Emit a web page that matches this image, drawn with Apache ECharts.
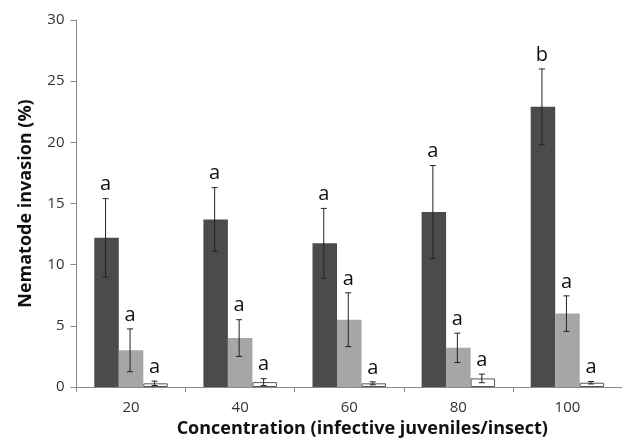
<!DOCTYPE html>
<html>
<head>
<meta charset="utf-8">
<script src="https://cdn.jsdelivr.net/npm/echarts@6/dist/echarts.min.js"></script>
<style>
  html, body { margin: 0; padding: 0; background: #fff; }
  #chart { width: 622px; height: 443px; }
</style>
</head>
<body>
<div id="chart"></div>
<script>
// Nematode invasion (%) by inoculum concentration, three groups per concentration
const categories = ['20', '40', '60', '80', '100'];

const darkValues  = [12.2, 13.7, 11.75, 14.3, 22.9];
const darkErrors  = [3.2, 2.6, 2.85, 3.8, 3.1];
const darkLetters = ['a', 'a', 'a', 'a', 'b'];

const grayValues  = [3.0, 4.0, 5.5, 3.2, 6.0];
const grayErrors  = [1.75, 1.5, 2.2, 1.2, 1.45];
const grayLetters = ['a', 'a', 'a', 'a', 'a'];

const whiteValues  = [0.3, 0.4, 0.3, 0.7, 0.35];
const whiteErrors  = [0.18, 0.28, 0.12, 0.35, 0.1];
const whiteLetters = ['a', 'a', 'a', 'a', 'a'];

const yTicks = { min: 0, max: 30, interval: 5 };

const BAR_W = 24.5;
const FONT = '"Open Sans", "Noto Sans", sans-serif';

const groups = [
  { values: darkValues,  errors: darkErrors,  letters: darkLetters,  slot: -1,
    style: { color: '#4b4b4b' } },
  { values: grayValues,  errors: grayErrors,  letters: grayLetters,  slot: 0,
    style: { color: '#a6a6a6' } },
  { values: whiteValues, errors: whiteErrors, letters: whiteLetters, slot: 1,
    style: { color: '#ffffff', borderColor: '#555555', borderWidth: 1 } }
];

// error bar with caps plus the significance letter above it
function errorBarSeries(g) {
  return {
    type: 'custom',
    z: 5,
    data: g.values.map((v, i) => [i, v, g.errors[i], g.letters[i]]),
    renderItem: function (params, api) {
      const i = api.value(0);
      const v = api.value(1);
      const e = api.value(2);
      const base = api.coord([i, v]);
      const x = base[0] + g.slot * BAR_W - 1;
      const top = api.coord([i, v + e])[1];
      const bot = api.coord([i, Math.max(v - e, 0)])[1];
      const cap = 3;
      const line = { stroke: '#222', lineWidth: 1 };
      return {
        type: 'group',
        children: [
          { type: 'line', shape: { x1: x, y1: top, x2: x, y2: bot }, style: line },
          { type: 'line', shape: { x1: x - cap, y1: top, x2: x + cap, y2: top }, style: line },
          { type: 'line', shape: { x1: x - cap, y1: bot, x2: x + cap, y2: bot }, style: line },
          { type: 'text', x: x, y: top - 4,
            style: { text: g.letters[i], fill: '#111', font: '20px ' + FONT,
                     textAlign: 'center', textVerticalAlign: 'bottom' } }
        ]
      };
    }
  };
}

const chart = echarts.init(document.getElementById('chart'), null, { renderer: 'canvas' });

chart.setOption({
  animation: false,
  backgroundColor: '#ffffff',
  grid: { left: 76.5, right: 0, top: 20, bottom: 56, containLabel: false },
  xAxis: {
    type: 'category',
    data: categories,
    name: 'Concentration (infective juveniles/insect)',
    nameLocation: 'middle',
    nameGap: 32,
    nameTextStyle: { fontFamily: FONT, fontWeight: 'bold', fontSize: 18, color: '#111',
                     padding: [0, 0, 0, 26] },
    axisLine: { lineStyle: { color: '#8a8a8a', width: 1 } },
    axisTick: { show: true, length: 5, lineStyle: { color: '#8a8a8a' } },
    axisLabel: { margin: 13, fontFamily: FONT, fontSize: 15, color: '#333' }
  },
  yAxis: {
    type: 'value',
    min: yTicks.min,
    max: yTicks.max,
    interval: yTicks.interval,
    name: 'Nematode invasion (%)',
    nameLocation: 'middle',
    nameGap: 42,
    nameTextStyle: { fontFamily: FONT, fontWeight: 'bold', fontSize: 18, color: '#111' },
    axisLine: { show: true, lineStyle: { color: '#8a8a8a', width: 1 } },
    axisTick: { show: true, length: 6, lineStyle: { color: '#8a8a8a' } },
    axisLabel: { margin: 12, fontFamily: FONT, fontSize: 15, color: '#333' },
    splitLine: { show: false }
  },
  series: groups.map(g => ({
    type: 'bar',
    data: g.values,
    barWidth: BAR_W,
    barGap: '0%',
    itemStyle: g.style
  })).concat(groups.map(errorBarSeries))
});
</script>
</body>
</html>
